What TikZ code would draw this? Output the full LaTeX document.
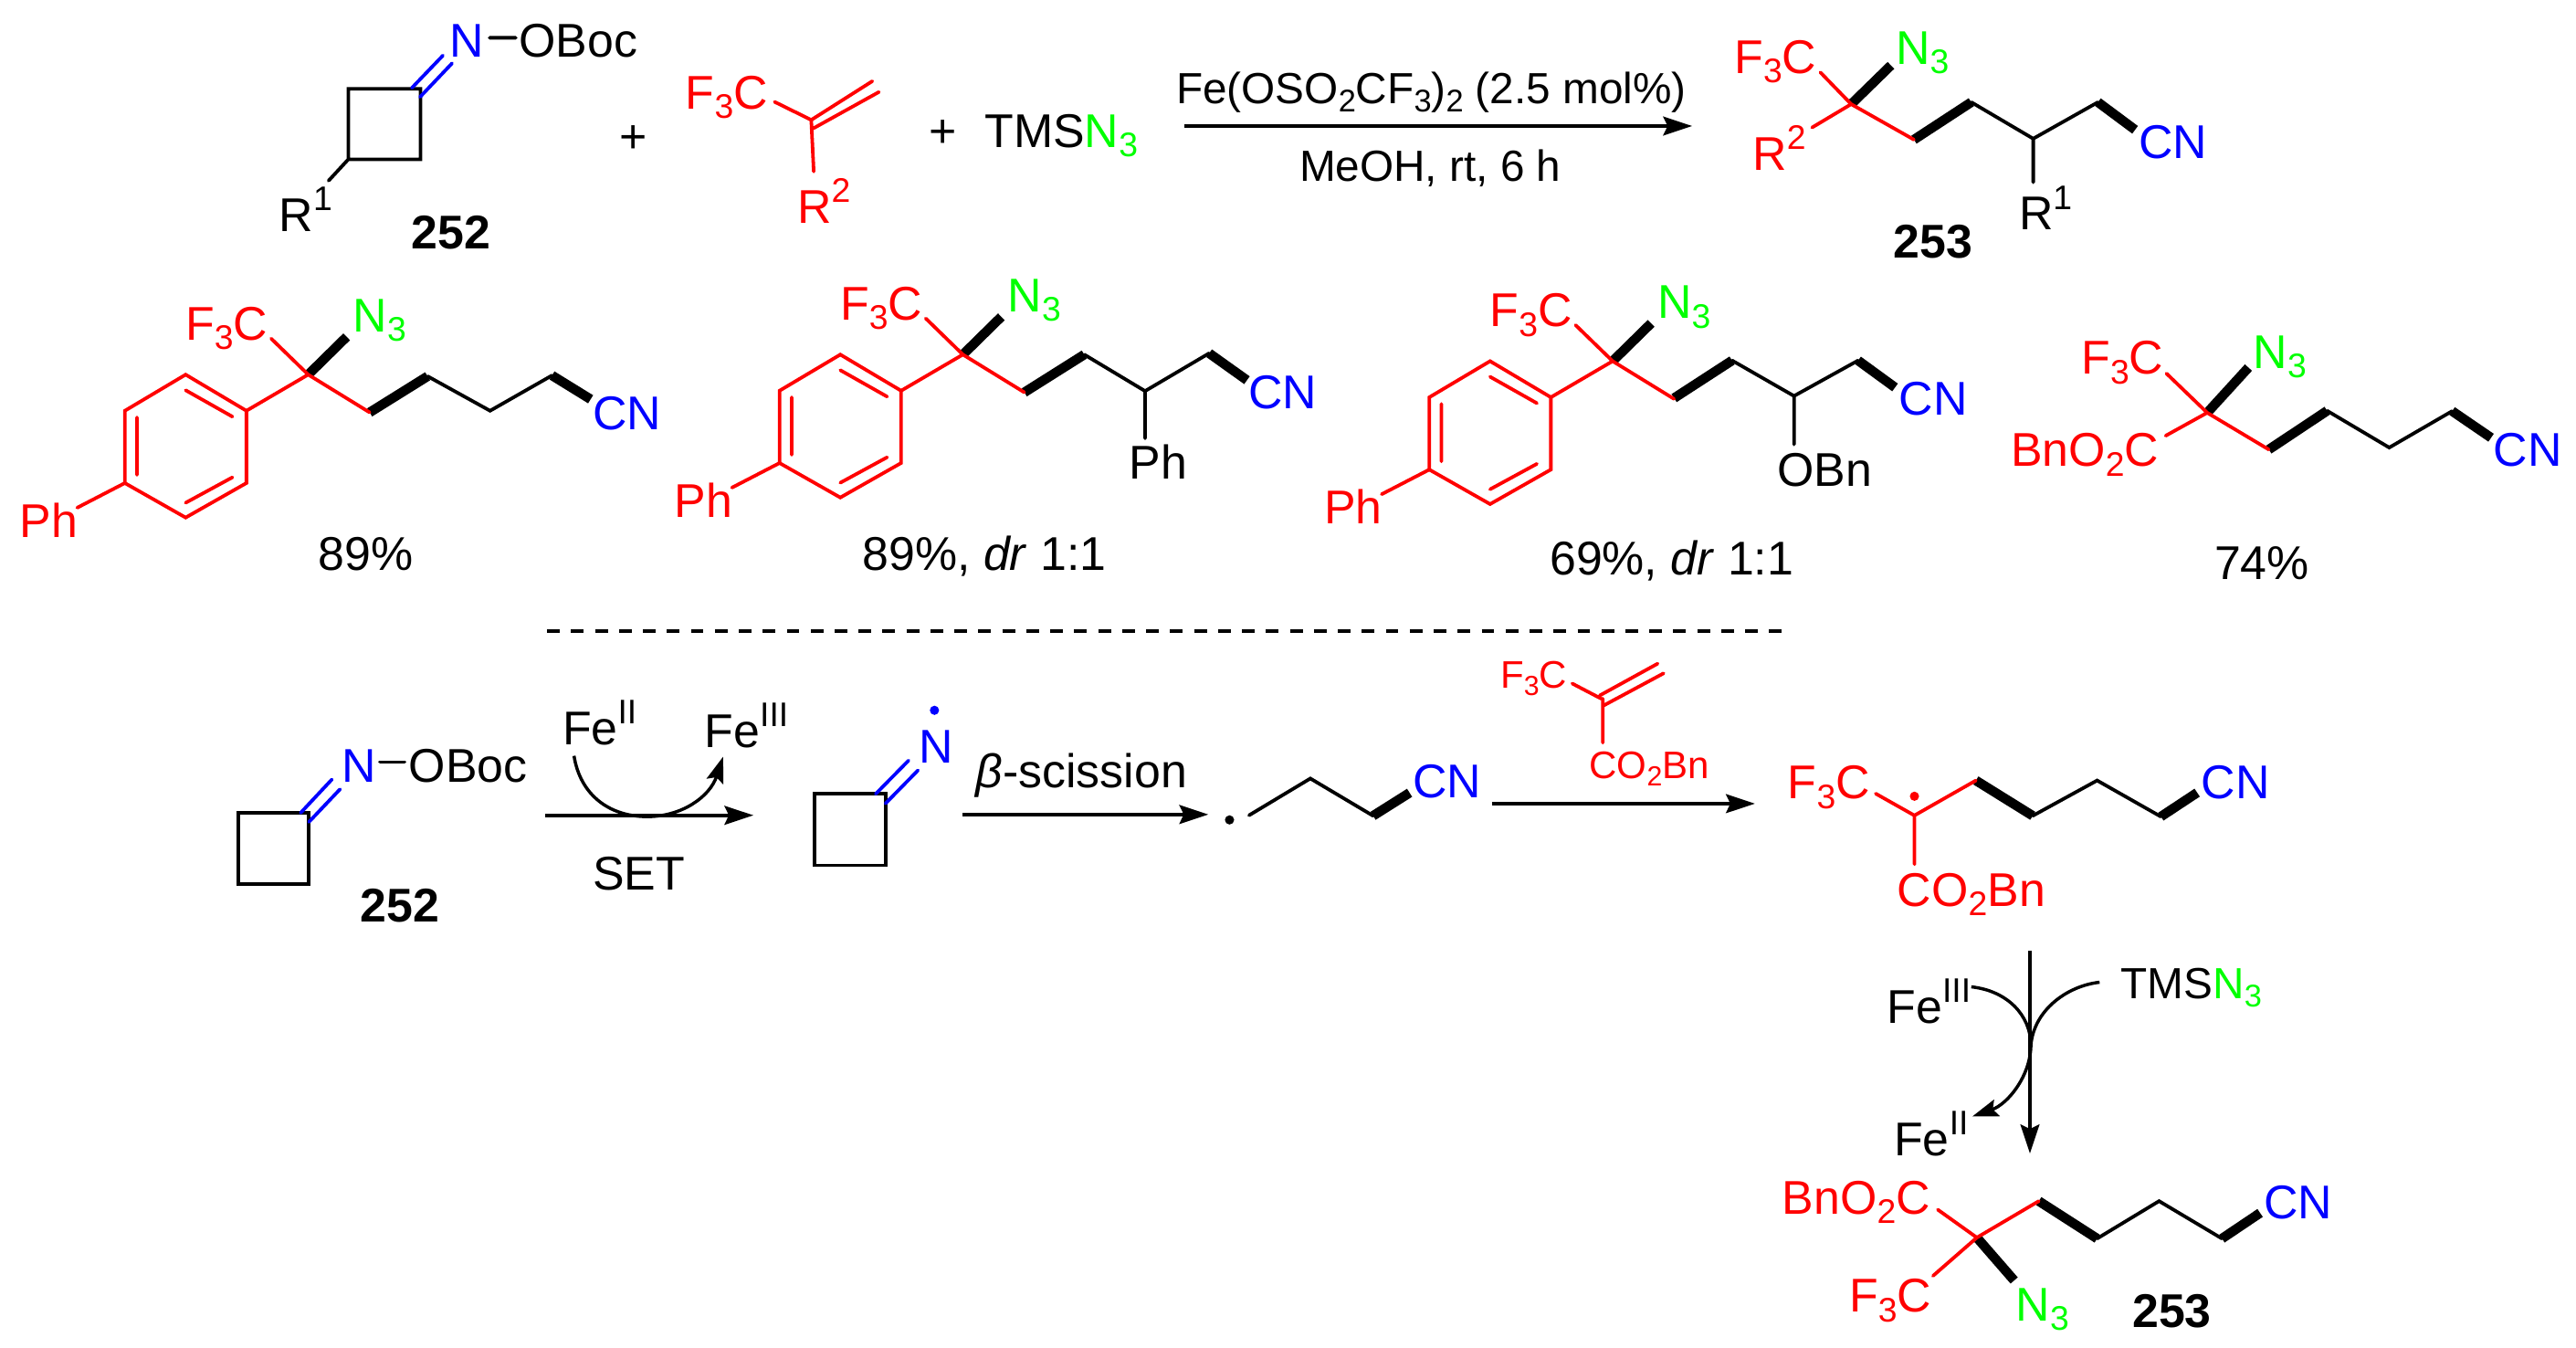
\documentclass[tikz,border=0pt]{standalone}
\usepackage{fontspec}
\usepackage{xcolor}
\setmainfont{Liberation Sans}
\usetikzlibrary{
    arrows.meta,
    calc
}
\definecolor{azidegreen}{rgb}{0,1,0}
\newcommand{\chemfont}{\fontsize{16.4}{18}\selectfont}
\newcommand{\smallchem}{\fontsize{13.3}{15}\selectfont}
\newcommand{\condfont}{\fontsize{15.1}{17}\selectfont}
\newcommand{\lsub}[1]{\raisebox{-0.2em}{\scalebox{0.72}{#1}}}
\newcommand{\lsup}[1]{\raisebox{0.44em}{\scalebox{0.72}{#1}}}
\newcommand{\azide}{{\color{azidegreen}N\lsub{3}}}
\tikzset{
    atom/.style={anchor=base west, inner sep=0pt, xshift=-0.8pt, font=\chemfont},
    smallatom/.style={atom, font=\smallchem},
    condtext/.style={atom, font=\condfont},
    bond/.style={line width=1.2pt, line cap=round, line join=miter},
    redbond/.style={bond, red},
    bluebond/.style={bond, blue},
    boldbond/.style={line width=3.3pt, line cap=butt},
    rxnarrow/.style={line width=1.2pt, -{Stealth[length=10pt, width=6.5pt, inset=1.5pt]}},
    curlyarrow/.style={line width=1.1pt, -{Stealth[length=9pt, width=6pt, inset=1.5pt]}},
    curly/.style={line width=1.1pt}
}
% aryl core shared by the first three products
\newcommand{\arylcore}{
    \path (113,228) coordinate (r1) (150,250) coordinate (r2) (150,294) coordinate (r3)
        (113,315) coordinate (r4) (76,294) coordinate (r5) (76,250) coordinate (r6)
        (113,237.5) coordinate (d1) (141.5,253.6) coordinate (d2)
        (83.4,254) coordinate (d3) (83.4,289) coordinate (d4)
        (113,306) coordinate (d5) (141.5,290.5) coordinate (d6)
        (187.6,228) coordinate (q) (165,206) coordinate (qf) (211,205) coordinate (qn)
        (225,251) coordinate (c1) (47,309) coordinate (ph);
    \node[atom, red] (f3c) at (114,207) {F\lsub{3}C};
    \node[atom] (n3) at (216,202) {\azide};
    \node[atom, red] (phr) at (13,327) {Ph};
    \draw[boldbond] (q) -- (qn);
    \draw[redbond] (r1) -- (r2) -- (r3) -- (r4) -- (r5) -- (r6) -- cycle;
    \draw[redbond] (d1) -- (d2) (d3) -- (d4) (d5) -- (d6);
    \draw[redbond] (r2) -- (q) -- (qf) (q) -- (c1) (r5) -- (ph);
}
\begin{document}
\begin{tikzpicture}[x=0.2mm, y=-0.2mm]
    \useasboundingbox (0,0) rectangle (1568,820.4);
    % oxime 252
    \begin{scope}[name prefix=ox-]
        \path (212,54) coordinate (a) (256,54) coordinate (b) (256,97) coordinate (c) (212,97) coordinate (d)
            (250.7,53.5) coordinate (e1) (269.6,33.8) coordinate (e2)
            (255.7,59) coordinate (f1) (275.2,38.5) coordinate (f2)
            (298,23) coordinate (g1) (314,23) coordinate (g2) (200,110) coordinate (h);
        \node[atom, blue] (n) at (275,35) {N};
        \node[atom] (oboc) at (317,35) {OBoc};
        \node[atom] (r) at (171,141) {R\lsup{1}};
        \node[atom, font=\chemfont\bfseries] (lbl) at (251.6,151.4) {252};
        \draw[bond] (a) -- (b) -- (c) -- (d) -- cycle (d) -- (h) (g1) -- (g2);
        \draw[bluebond] (e1) -- (e2) (f1) -- (f2);
    \end{scope}
    \node[atom] (plusa) at (378,93) {+};
    % alkene
    \begin{scope}[name prefix=ene-]
        \path (471.5,62) coordinate (a) (493.8,73) coordinate (b) (531,49.4) coordinate (c)
            (495.3,78) coordinate (d) (535,56) coordinate (e) (495.3,104.4) coordinate (f);
        \node[atom, red] (f3c) at (418.4,66.3) {F\lsub{3}C};
        \node[atom, red] (r) at (486.4,136) {R\lsup{2}};
        \draw[redbond] (a) -- (b) -- (c) (d) -- (e) (b) -- (f);
    \end{scope}
    \node[atom] (plusb) at (566.5,89.5) {+};
    \node[atom] (tmsa) at (600.5,89.7) {TMS\azide};
    % conditions
    \path (721,76.7) coordinate (rxa) (1030,76.7) coordinate (rxb);
    \draw[rxnarrow] (rxa) -- (rxb);
    \node[condtext] (cond) at (717,63) {Fe(OSO\lsub{2}CF\lsub{3})\lsub{2} (2.5 mol\%)};
    \node[condtext] (solv) at (792,110.4) {MeOH, rt, 6 h};
    % product 253
    \begin{scope}[name prefix=pa-]
        \path (1126.8,63.4) coordinate (q) (1108,44) coordinate (qf) (1151,39.8) coordinate (qn)
            (1103,77.6) coordinate (qr) (1165,85) coordinate (c1) (1199.9,62.2) coordinate (c2)
            (1237.6,84.4) coordinate (c3) (1277,62.2) coordinate (c4) (1299.6,79) coordinate (c5)
            (1237.6,111) coordinate (c6);
        \node[atom, red] (f3c) at (1056.8,44.6) {F\lsub{3}C};
        \node[atom] (n3) at (1155,39) {\azide};
        \node[atom, red] (r2) at (1067.9,103.7) {R\lsup{2}};
        \node[atom, blue] (cn) at (1303,96.4) {CN};
        \node[atom] (r1) at (1230,140) {R\lsup{1}};
        \node[atom, font=\chemfont\bfseries] (lbl) at (1153.5,157) {253};
        \draw[boldbond] (q) -- (qn) (c1) -- (c2) (c4) -- (c5);
        \draw[bond] (c2) -- (c3) -- (c4) (c3) -- (c6);
        \draw[redbond] (q) -- (qf) (q) -- (qr) (q) -- (c1);
    \end{scope}
    % first product
    \begin{scope}[name prefix=pb-]
        \path (260.3,229) coordinate (c2) (298.3,250) coordinate (c3) (336,228.5) coordinate (c4) (359.5,243) coordinate (c5);
        \draw[boldbond] (225,251) -- (c2) (c4) -- (c5);
        \draw[bond] (c2) -- (c3) -- (c4);
        \arylcore
        \node[atom, blue] (cn) at (362,261.6) {CN};
        \node[atom] (yld) at (195,347) {89\%};
    \end{scope}
    % second product
    \begin{scope}[shift={(398.5,-12.2)}, name prefix=pc-]
        \path (225,251) coordinate (c1a) (261.5,228) coordinate (c2) (298.5,250.2) coordinate (c3) (337.5,227.2) coordinate (c4)
            (360.5,243.6) coordinate (c5) (298.5,279) coordinate (c6);
        \draw[boldbond] (c1a) -- (c2) (c4) -- (c5);
        \draw[bond] (c2) -- (c3) -- (c4) (c3) -- (c6);
        \arylcore
        \node[atom, blue] (cn) at (362.5,261) {CN};
        \node[atom] (ph2) at (290,304) {Ph};
    \end{scope}
    \node[atom] (yldc) at (526,347) {89\%, \textit{dr} 1:1};
    % third product
    \begin{scope}[shift={(794,-8.2)}, name prefix=pd-]
        \path (225,250.5) coordinate (c1a) (260.3,227.6) coordinate (c2) (298,249.2) coordinate (c3) (337,227.6) coordinate (c4)
            (359.5,244) coordinate (c5) (298,278.7) coordinate (c6);
        \draw[boldbond] (c1a) -- (c2) (c4) -- (c5);
        \draw[bond] (c2) -- (c3) -- (c4) (c3) -- (c6);
        \arylcore
        \node[atom, blue] (cn) at (363,260.9) {CN};
        \node[atom] (obn) at (289,304.2) {OBn};
    \end{scope}
    \node[atom] (yldd) at (944.4,350) {69\%, \textit{dr} 1:1};
    % fourth product
    \begin{scope}[name prefix=pe-]
        \path (1343.5,251.2) coordinate (q) (1318.7,227.3) coordinate (qf) (1368.6,223.7) coordinate (qn)
            (1318.2,265.2) coordinate (qb) (1381,273.6) coordinate (c1) (1416.5,250) coordinate (c2)
            (1454.3,272.4) coordinate (c3) (1492.6,250.2) coordinate (c4) (1516.3,266.4) coordinate (c5);
        \node[atom, red] (f3c) at (1268,227.8) {F\lsub{3}C};
        \node[atom] (n3) at (1372.6,224.2) {\azide};
        \node[atom, red] (bn) at (1225,284) {BnO\lsub{2}C};
        \node[atom, blue] (cn) at (1518.8,284) {CN};
        \node[atom] (yld) at (1349,352.5) {74\%};
        \draw[boldbond] (q) -- (qn) (c1) -- (c2) (c4) -- (c5);
        \draw[bond] (c2) -- (c3) -- (c4);
        \draw[redbond] (q) -- (qf) (q) -- (qb) (q) -- (c1);
    \end{scope}
    % divider
    \path (333,384) coordinate (dva) (1085,384) coordinate (dvb);
    \draw[line width=1.1pt, dash pattern=on 4.4pt off 3.9pt] (dva) -- (dvb);
    % mechanism: oxime
    \begin{scope}[name prefix=mo-]
        \path (145,494.7) coordinate (a) (188,494.7) coordinate (b) (188,538) coordinate (c) (145,538) coordinate (d)
            (183,494.7) coordinate (e1) (202,474.4) coordinate (e2)
            (188,500.3) coordinate (f1) (207,480.3) coordinate (f2)
            (231.3,463.8) coordinate (g1) (246.2,463.8) coordinate (g2);
        \node[atom, blue] (n) at (209,475.8) {N};
        \node[atom] (oboc) at (250,475.8) {OBoc};
        \node[atom, font=\chemfont\bfseries] (lbl) at (220.4,561) {252};
        \draw[bond] (a) -- (b) -- (c) -- (d) -- cycle (g1) -- (g2);
        \draw[bluebond] (e1) -- (e2) (f1) -- (f2);
    \end{scope}
    % SET step
    \path (332,496.2) coordinate (seta) (458.6,496.2) coordinate (setb)
        (349.4,460) coordinate (cva) (394,497) coordinate (cvb) (440.2,460.5) coordinate (cvc);
    \draw[rxnarrow] (seta) -- (setb);
    \draw[curlyarrow] (cva) .. controls (353,483) and (370,497) .. (cvb) .. controls (415,497) and (432,485) .. (cvc);
    \node[atom] (feb) at (343.5,453) {Fe\lsup{II}};
    \node[atom] (fec) at (430,455) {Fe\lsup{III}};
    \node[atom] (set) at (361.8,541.6) {SET};
    % iminyl radical
    \begin{scope}[name prefix=mi-]
        \path (495.8,483) coordinate (a) (539,483) coordinate (b) (539,526.6) coordinate (c) (495.8,526.6) coordinate (d)
            (533,483.2) coordinate (e1) (553,462.9) coordinate (e2)
            (539,489) coordinate (f1) (558.8,468.8) coordinate (f2) (568.8,432.3) coordinate (dot);
        \node[atom, blue] (n) at (560.3,464.5) {N};
        \draw[bond] (a) -- (b) -- (c) -- (d) -- cycle;
        \draw[bluebond] (e1) -- (e2) (f1) -- (f2);
        \fill[blue] (dot) circle (1.6pt);
    \end{scope}
    \path (586,495.7) coordinate (sca) (735.5,495.7) coordinate (scb);
    \draw[rxnarrow] (sca) -- (scb);
    \node[atom] (scis) at (595,479.5) {\textit{β}-scission};
    % alkyl radical
    \begin{scope}[name prefix=mr-]
        \path (748.4,499) coordinate (dot) (760.3,496.2) coordinate (c1) (797.6,473.8) coordinate (c2)
            (835.8,496.5) coordinate (c3) (858,482.5) coordinate (c4);
        \node[atom, blue] (cn) at (861,485.5) {CN};
        \fill (dot) circle (1.6pt);
        \draw[bond] (c1) -- (c2) -- (c3);
        \draw[boldbond] (c3) -- (c4);
    \end{scope}
    % acrylate over the arrow
    \begin{scope}[name prefix=ac-]
        \path (957,416) coordinate (a) (974.6,425.2) coordinate (b) (973.7,423.3) coordinate (c1) (1009,403.9) coordinate (c2)
            (976.1,429.4) coordinate (d1) (1012.6,409.8) coordinate (d2) (975.6,425.2) coordinate (e1) (975.6,452) coordinate (e2);
        \node[smallatom, red] (f3c) at (914.4,418.7) {F\lsub{3}C};
        \node[smallatom, red] (co2) at (968.5,473.7) {CO\lsub{2}Bn};
        \draw[redbond] (a) -- (b) (c1) -- (c2) (d1) -- (d2) (e1) -- (e2);
    \end{scope}
    \path (908,489.1) coordinate (aca) (1068.2,489.1) coordinate (acb);
    \draw[rxnarrow] (aca) -- (acb);
    % benzylic radical
    \begin{scope}[name prefix=ms-]
        \path (1141.7,483) coordinate (a) (1165.3,496.3) coordinate (q) (1202.7,475) coordinate (c1) (1237.3,496.5) coordinate (c2)
            (1276.5,475) coordinate (c3) (1315.3,497) coordinate (c4) (1337.4,482.4) coordinate (c5)
            (1165.3,526) coordinate (e) (1165.3,484.6) coordinate (dot);
        \node[atom, red] (f3c) at (1089.3,486.3) {F\lsub{3}C};
        \node[atom, blue] (cn) at (1341,486.3) {CN};
        \node[atom, red] (co2) at (1156,551.6) {CO\lsub{2}Bn};
        \draw[boldbond] (c1) -- (c2) (c4) -- (c5);
        \draw[bond] (c2) -- (c3) -- (c4);
        \draw[redbond] (a) -- (q) -- (c1) (q) -- (e);
        \fill[red] (dot) circle (1.6pt);
    \end{scope}
    % azide transfer
    \path (1235.6,578.5) coordinate (aza) (1235.6,702) coordinate (azb)
        (1199.9,600.6) coordinate (cwa) (1236.2,636) coordinate (cwb) (1200.5,679.5) coordinate (cwc) (1278,597.8) coordinate (cwd);
    \draw[rxnarrow] (aza) -- (azb);
    \draw[curly] (cwd) .. controls (1258,600) and (1238,615) .. (cwb);
    \draw[curlyarrow] (cwa) .. controls (1222,603) and (1236,618) .. (cwb) .. controls (1236,655) and (1222,672) .. (cwc);
    \node[atom] (fed) at (1149.7,622.7) {Fe\lsup{III}};
    \node[condtext] (tmsb) at (1292,607.7) {TMS\azide};
    \node[atom] (fee) at (1154,703.3) {Fe\lsup{II}};
    % final product
    \begin{scope}[name prefix=pf-]
        \path (1203.3,753.2) coordinate (q) (1179.5,736.2) coordinate (qb) (1176.6,776.5) coordinate (qf) (1226,779.3) coordinate (qn)
            (1241,731) coordinate (c1) (1276.5,753.8) coordinate (c2) (1314.2,731) coordinate (c3)
            (1352.5,753.8) coordinate (c4) (1375.7,738.2) coordinate (c5);
        \node[atom, red] (bn) at (1085.9,738.8) {BnO\lsub{2}C};
        \node[atom, red] (f3c) at (1126.7,798.6) {F\lsub{3}C};
        \node[atom] (n3) at (1228.2,804) {\azide};
        \node[atom, blue] (cn) at (1379,741.9) {CN};
        \node[atom, font=\chemfont\bfseries] (lbl) at (1299,807.7) {253};
        \draw[boldbond] (q) -- (qn) (c1) -- (c2) (c4) -- (c5);
        \draw[bond] (c2) -- (c3) -- (c4);
        \draw[redbond] (q) -- (qb) (q) -- (qf) (q) -- (c1);
    \end{scope}
\end{tikzpicture}
\end{document}
